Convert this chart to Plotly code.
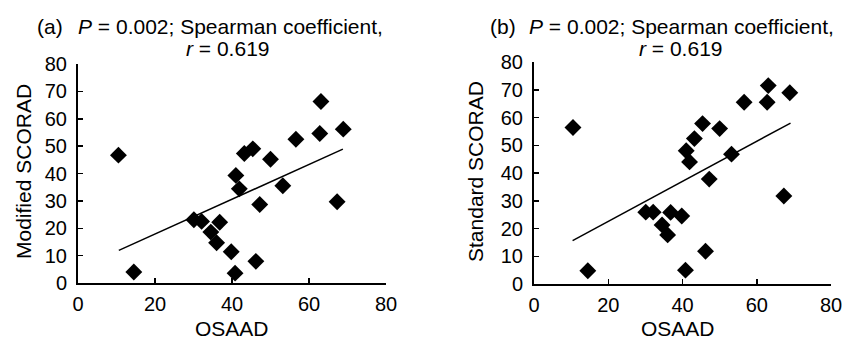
import plotly.graph_objects as go

# Data
osaad = [10.5, 14.5, 30.1, 32.1, 34.5, 36.0, 36.8, 39.8, 40.8, 41.0, 41.9,
         43.2, 45.4, 46.2, 47.2, 50.0, 53.2, 56.6, 62.8, 63.1, 67.3, 68.9]
modified_scorad = [46.7, 4.0, 23.1, 22.5, 18.6, 14.7, 22.2, 11.4, 3.6, 39.3, 34.4,
                   47.3, 49.0, 7.9, 28.7, 45.2, 35.5, 52.5, 54.6, 66.3, 29.7, 56.2]
standard_scorad = [56.4, 4.8, 25.9, 25.9, 21.3, 17.7, 25.8, 24.5, 5.0, 48.0, 44.0,
                   52.4, 57.8, 11.8, 37.8, 56.0, 46.8, 65.5, 65.5, 71.5, 31.7, 68.9]
fit_a_x = [10.6, 68.8]
fit_a_y = [11.9, 48.9]
fit_b_x = [10.4, 69.1]
fit_b_y = [15.6, 58.0]
tick_vals = [0, 20, 40, 60, 80]
ytick_vals = [0, 10, 20, 30, 40, 50, 60, 70, 80]

W, H = 845, 340
FONT = "Liberation Sans, Arial, Helvetica, sans-serif"

fig = go.Figure()
# pixel plot areas: (x0, x1, ytop, ybottom)
areas = [(78, 386, 64, 283), (534, 831, 62, 284)]

def px_x(p):
    return p / W

def px_y(p):
    return 1 - p / H

for i, (x0, x1, yt, yb) in enumerate(areas):
    sfx = "" if i == 0 else str(i + 1)
    common = dict(range=[0, 80], ticks="inside", ticklen=5, tickwidth=1.5,
                  tickcolor="black", showline=True, linecolor="black", linewidth=2,
                  showgrid=False, zeroline=False, fixedrange=True, automargin=False,
                  tickfont=dict(size=20, color="black", family=FONT))
    ax = dict(domain=[px_x(x0), px_x(x1)], tickvals=tick_vals, anchor="y" + sfx,
              ticklabelstandoff=2, **common)
    ay = dict(domain=[px_y(yb), px_y(yt)], tickvals=ytick_vals, anchor="x" + sfx,
              ticklabelstandoff=5, **common)
    fig.update_layout(**{"xaxis" + sfx: ax, "yaxis" + sfx: ay})

series = [(modified_scorad, fit_a_x, fit_a_y), (standard_scorad, fit_b_x, fit_b_y)]
for i, (ys, fx, fy) in enumerate(series):
    sfx = "" if i == 0 else str(i + 1)
    fig.add_trace(go.Scatter(x=fx, y=fy, mode="lines",
                             line=dict(color="black", width=1.5),
                             xaxis="x" + sfx, yaxis="y" + sfx, showlegend=False,
                             hoverinfo="skip"))
    fig.add_trace(go.Scatter(x=osaad, y=ys, mode="markers",
                             marker=dict(symbol="diamond", size=13, color="black"),
                             xaxis="x" + sfx, yaxis="y" + sfx, showlegend=False))

ann = []
def text(x, y, t, size=21, angle=0, xanchor="center"):
    ann.append(dict(x=px_x(x), y=px_y(y), xref="paper", yref="paper", text=t,
                    showarrow=False, xanchor=xanchor, yanchor="middle",
                    textangle=angle, font=dict(size=size, color="black", family=FONT)))

# panel titles
text(35, 27, "(a)", xanchor="left")
text(230, 27, "<i>P</i> = 0.002; Spearman coefficient,")
text(227, 49, "<i>r</i> = 0.619")
text(488, 27, "(b)", xanchor="left")
text(681, 27, "<i>P</i> = 0.002; Spearman coefficient,")
text(680, 49, "<i>r</i> = 0.619")
# axis titles
text(232, 328, "OSAAD")
text(678, 328, "OSAAD")
text(23, 172, "Modified SCORAD", angle=-90)
text(475, 172, "Standard SCORAD", angle=-90)

fig.update_layout(
    width=W, height=H, margin=dict(l=0, r=0, t=0, b=0, autoexpand=False),
    paper_bgcolor="white", plot_bgcolor="white",
    annotations=ann, font=dict(family=FONT, color="black"),
)

fig.write_html(
    "out.html",
    config={"displayModeBar": False, "staticPlot": True},
    post_script="document.body.style.margin='0';document.body.style.overflow='hidden';",
)
